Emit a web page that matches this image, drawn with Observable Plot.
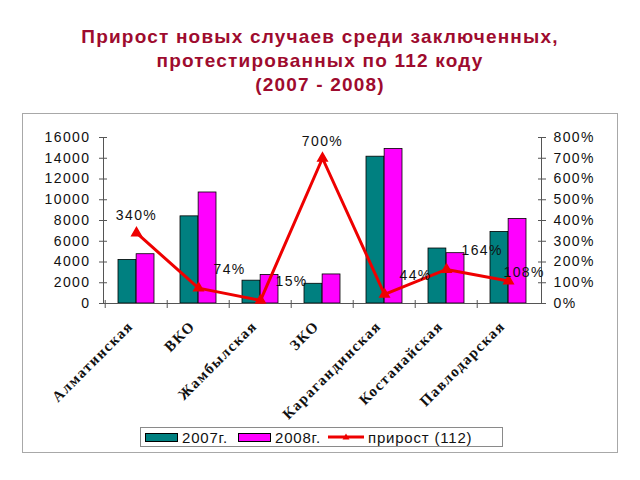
<!DOCTYPE html>
<html><head><meta charset="utf-8">
<script src="https://cdn.jsdelivr.net/npm/d3@7"></script>
<script src="https://cdn.jsdelivr.net/npm/@observablehq/plot@0.6"></script>
<style>
body{margin:0;width:640px;height:480px;background:#fff;position:relative;overflow:hidden;font-family:"Liberation Sans",Arial,sans-serif;}
#title{position:absolute;left:0;top:25px;width:640px;text-align:center;color:#9e0b2e;font-weight:bold;font-size:19px;line-height:24px;letter-spacing:1.2px;}
#box{position:absolute;left:22px;top:113px;width:594px;height:338px;border:1px solid #a8a8a8;}
#chart{position:absolute;left:0;top:0;}
#chart text{letter-spacing:1.4px;}
#legend{position:absolute;left:117px;top:313px;width:361px;height:18px;border:1px solid #8a8a8a;font-size:15px;letter-spacing:0.8px;display:flex;align-items:center;color:#111;background:#fff;}
.sw{display:inline-block;width:31px;height:7px;border:1px solid #000;margin-left:4px;margin-right:4px;}
.lbl{margin-right:6px;}
</style>
</head><body>
<div id="title">Прирост новых случаев среди заключенных,<br>протестированных по 112 коду<br>(2007 - 2008)</div>
<div id="box">
  <div id="chart"></div>
  <div id="legend"></div>
</div>
<script>
const categories = ["Алматинская","ВКО","Жамбылская","ЗКО","Карагандинская","Костанайская","Павлодарская"];
const cases2007 = [4200, 8400, 2200, 1900, 14150, 5300, 6900];
const cases2008 = [4750, 10700, 2750, 2800, 14900, 4850, 8150];
const growth = [340, 74, 15, 700, 44, 164, 108];
const leftTicks = [0, 2000, 4000, 6000, 8000, 10000, 12000, 14000, 16000];
const rightTicks = [0, 100, 200, 300, 400, 500, 600, 700, 800];
const seriesNames = ["2007г.", "2008г.", "прирост (112)"];

const C2007 = "#008080", C2008 = "#ff00ff", CLINE = "#ee0000";
const K = 16000 / 800; // right (percent) axis mapped onto left scale

const rows = categories.map((c, i) => ({cat: c, a: cases2007[i], b: cases2008[i], g: growth[i]}));

const W = 594, H = 330, mL = 80, mR = 76, mT = 23, mB = 141;
const pad = 0.42;
const step = (W - mL - mR) / categories.length;
const bw = step * (1 - pad);

const aboveCenter = new Set(["Алматинская", "ЗКО"]);
const rightSide = new Set(["Павлодарская"]);

const chart = Plot.plot({
  width: W, height: H,
  marginLeft: mL, marginRight: mR, marginTop: mT, marginBottom: mB,
  x: {domain: categories, paddingInner: pad, paddingOuter: pad / 2, axis: null, label: null},
  y: {domain: [0, 16000], axis: null, label: null},
  style: {fontFamily: "Liberation Sans, Arial, sans-serif", fontSize: "14px", background: "transparent", color: "#111"},
  marks: [
    Plot.barY(rows, {x: "cat", y: "a", fill: C2007, stroke: "#000", strokeWidth: 0.8, insetRight: bw / 2}),
    Plot.barY(rows, {x: "cat", y: "b", fill: C2008, stroke: "#000", strokeWidth: 0.8, insetLeft: bw / 2}),
    Plot.ruleY([0], {stroke: "#555"}),
    Plot.frame({anchor: "left", stroke: "#555"}),
    Plot.frame({anchor: "right", stroke: "#555"}),
    // left axis
    Plot.axisY(leftTicks, {anchor: "left", label: null, tickSize: 8, dx: 4, tickFormat: () => "", stroke: "#555"}),
    Plot.axisY(leftTicks, {anchor: "left", label: null, tickSize: 0, tickPadding: 13, fontSize: 14, fill: "#111", tickFormat: v => String(v)}),
    // right axis
    Plot.axisY(rightTicks.map(p => p * K), {anchor: "right", label: null, tickSize: 8, dx: -4, tickFormat: () => "", stroke: "#555"}),
    Plot.axisY(rightTicks.map(p => p * K), {anchor: "right", label: null, tickSize: 0, tickPadding: 12, fontSize: 14, fill: "#111", tickFormat: v => (v / K) + "%"}),
    // category boundary ticks
    Plot.axisX({label: null, tickSize: 8, dx: -step / 2, dy: -3, tickFormat: () => "", stroke: "#555"}),
    // category labels
    Plot.axisX({label: null, tickSize: 0, tickPadding: 20, dx: -6, tickRotate: -45, fontSize: 15, fontWeight: "bold", fontFamily: "Liberation Serif, serif", fill: "#111"}),
    // growth line
    Plot.lineY(rows, {x: "cat", y: d => d.g * K, stroke: CLINE, strokeWidth: 3}),
    Plot.dot(rows, {x: "cat", y: d => d.g * K, symbol: "triangle", r: 3.5, fill: CLINE, stroke: CLINE}),
    Plot.text(rows, {filter: d => aboveCenter.has(d.cat), x: "cat", y: d => d.g * K, text: d => d.g + "%", dy: -17, fontSize: 14, fill: "#111"}),
    Plot.text(rows, {filter: d => !aboveCenter.has(d.cat) && !rightSide.has(d.cat), x: "cat", y: d => d.g * K, text: d => d.g + "%", textAnchor: "start", dx: 15, dy: -19, fontSize: 14, fill: "#111"}),
    Plot.text(rows, {filter: d => rightSide.has(d.cat), x: "cat", y: d => d.g * K, text: d => d.g + "%", textAnchor: "start", dx: -5, dy: -9, fontSize: 14, fill: "#111"})
  ]
});
document.getElementById("chart").appendChild(chart);

// legend
const lg = document.getElementById("legend");
const mkSw = (col) => { const s = document.createElement("span"); s.className = "sw"; s.style.background = col; return s; };
const mkLbl = (t) => { const s = document.createElement("span"); s.className = "lbl"; s.textContent = t; return s; };
lg.appendChild(mkSw(C2007)); lg.appendChild(mkLbl(seriesNames[0]));
lg.appendChild(mkSw(C2008)); lg.appendChild(mkLbl(seriesNames[1]));
const ln = document.createElementNS("http://www.w3.org/2000/svg", "svg");
ln.setAttribute("width", "38"); ln.setAttribute("height", "10");
ln.style.marginRight = "3px";
ln.innerHTML = `<line x1="1" y1="5" x2="37" y2="5" stroke="${CLINE}" stroke-width="3"/><path d="M19,1.5 L22.5,7.5 L15.5,7.5 Z" fill="${CLINE}"/>`;
lg.appendChild(ln); lg.appendChild(mkLbl(seriesNames[2]));
</script>
</body></html>
